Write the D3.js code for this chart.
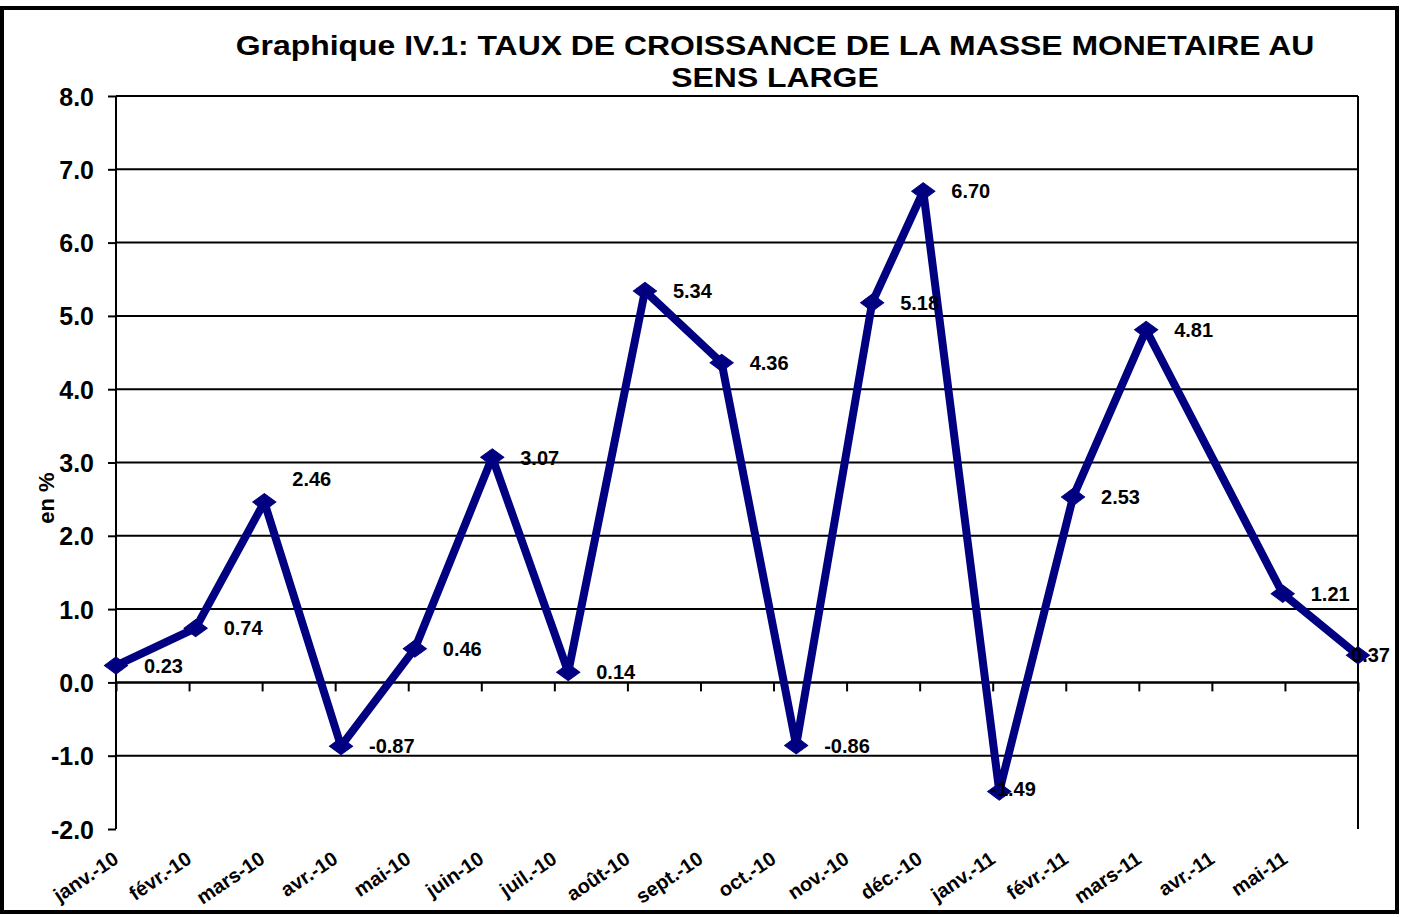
<!DOCTYPE html>
<html>
<head>
<meta charset="utf-8">
<script src="https://cdn.jsdelivr.net/npm/d3@7"></script>
<style>
  body { margin: 0; background: #fff; }
  text { font-family: "Liberation Sans", Arial, sans-serif; font-weight: bold; fill: #000; }
</style>
</head>
<body>
<div id="chart"></div>
<script>
"use strict";

const titleLines = ["Graphique IV.1: TAUX DE CROISSANCE DE LA MASSE MONETAIRE AU", "SENS LARGE"];
const yLabel = "en %";
const months = ["janv.-10", "févr.-10", "mars-10", "avr.-10", "mai-10", "juin-10", "juil.-10", "août-10",
  "sept.-10", "oct.-10", "nov.-10", "déc.-10", "janv.-11", "févr.-11", "mars-11", "avr.-11", "mai-11", ""];
const periods = [0, 1.09, 2.03, 3.08, 4.09, 5.15, 6.19, 7.24, 8.29, 9.31, 10.35, 11.05, 12.09, 13.10, 14.10, 15.97, 17];
const values = [0.23, 0.74, 2.46, -0.87, 0.46, 3.07, 0.14, 5.34, 4.36, -0.86, 5.18, 6.70, -1.49, 2.53, 4.81, 1.21, 0.37];
const yTicks = [8, 7, 6, 5, 4, 3, 2, 1, 0, -1, -2];

const width = 1403;
const height = 917;
const plotLeft = 116, plotRight = 1358, plotTop = 96, plotBottom = 829;
const navy = "#000080";
// a couple of labels were moved by hand in the original
const labelNudge = { 2: [0, -23], 12: [-37, -3] };

const svg = d3.select("#chart")
  .append("svg")
  .attr("width", width)
  .attr("height", height);

// outer frame
svg.append("rect")
  .attr("x", 2).attr("y", 8)
  .attr("width", 1395).attr("height", 904)
  .attr("fill", "none")
  .attr("stroke", "#000")
  .attr("stroke-width", 4);

const xScale = d3.scaleLinear().domain([0, months.length - 1]).range([plotLeft, plotRight]);
const yScale = d3.scaleLinear().domain([-2, 8]).range([plotBottom, plotTop]);

// title (the original is stretched sideways)
svg.append("g")
  .attr("transform", "translate(775, 0) scale(1.14, 1)")
  .selectAll("text")
  .data(titleLines)
  .enter()
  .append("text")
  .attr("x", 0)
  .attr("y", (d, i) => 55 + i * 32)
  .attr("text-anchor", "middle")
  .style("font-size", "28px")
  .text(d => d);

// gridlines
svg.append("g")
  .selectAll("line")
  .data(yTicks.filter(t => t > -2))
  .enter()
  .append("line")
  .attr("x1", plotLeft).attr("x2", plotRight)
  .attr("y1", d => yScale(d)).attr("y2", d => yScale(d))
  .attr("stroke", "#000")
  .attr("stroke-width", 2);

// right border of plot
svg.append("line")
  .attr("x1", plotRight).attr("x2", plotRight)
  .attr("y1", plotTop).attr("y2", plotBottom)
  .attr("stroke", "#000")
  .attr("stroke-width", 2);

// y axis
const yAxis = d3.axisLeft(yScale)
  .tickValues(yTicks)
  .tickFormat(d => d.toFixed(1))
  .tickSize(8)
  .tickPadding(14);

const yG = svg.append("g")
  .attr("transform", `translate(${plotLeft}, 0)`)
  .call(yAxis);
yG.select(".domain").attr("stroke", "#000").attr("stroke-width", 2).attr("d", `M0,${plotTop}V${plotBottom}`);
yG.selectAll(".tick line").attr("stroke", "#000").attr("stroke-width", 2);
yG.selectAll(".tick text")
  .style("font-size", "25px")
  .style("font-family", "'Liberation Sans', Arial, sans-serif")
  .style("font-weight", "bold")
  .attr("dy", "0.36em");

// x axis at zero
const xAxis = d3.axisBottom(xScale)
  .tickValues(d3.range(months.length))
  .tickFormat("")
  .tickSize(9);

const xG = svg.append("g")
  .attr("transform", `translate(0, ${yScale(0)})`)
  .call(xAxis);
xG.select(".domain").attr("stroke", "#000").attr("stroke-width", 2).attr("d", `M${plotLeft},0H${plotRight}`);
xG.selectAll(".tick line").attr("stroke", "#000").attr("stroke-width", 2);

// month labels at the bottom
svg.append("g")
  .selectAll("text")
  .data(months)
  .enter()
  .append("text")
  .attr("transform", (d, i) => `translate(${xScale(i) + 4}, ${862}) rotate(-34)`)
  .attr("text-anchor", "end")
  .style("font-size", "20px")
  .text(d => d);

// y axis label
svg.append("text")
  .attr("transform", "translate(54, 498) rotate(-90)")
  .attr("text-anchor", "middle")
  .style("font-size", "22px")
  .text(yLabel);

const series = values.map((v, i) => ({ x: periods[i], y: v, i: i }));

// line
svg.append("path")
  .datum(series)
  .attr("fill", "none")
  .attr("stroke", navy)
  .attr("stroke-width", 8)
  .attr("stroke-linejoin", "round")
  .attr("d", d3.line().x(d => xScale(d.x)).y(d => yScale(d.y)));

// diamond markers
svg.append("g")
  .selectAll("path")
  .data(series)
  .enter()
  .append("path")
  .attr("transform", d => `translate(${xScale(d.x)}, ${yScale(d.y)}) scale(1.15, 0.85)`)
  .attr("d", d3.symbol().type(d3.symbolDiamond2).size(260))
  .attr("fill", navy)
  .attr("stroke", navy)
  .attr("stroke-width", 1);

// value labels
const labels = svg.append("g")
  .selectAll("text")
  .data(series)
  .enter()
  .append("text")
  .attr("x", d => xScale(d.x) + 28 + (labelNudge[d.i] ? labelNudge[d.i][0] : 0))
  .attr("y", d => yScale(d.y) + (labelNudge[d.i] ? labelNudge[d.i][1] : 0))
  .attr("dy", "0.36em")
  .style("font-size", "20px")
  .text(d => d.y.toFixed(2));

// keep labels inside the chart frame
labels.each(function () {
  const t = d3.select(this);
  const w = this.getComputedTextLength();
  const x = +t.attr("x");
  if (x + w > 1390) t.attr("x", 1390 - w);
});
</script>
</body>
</html>
